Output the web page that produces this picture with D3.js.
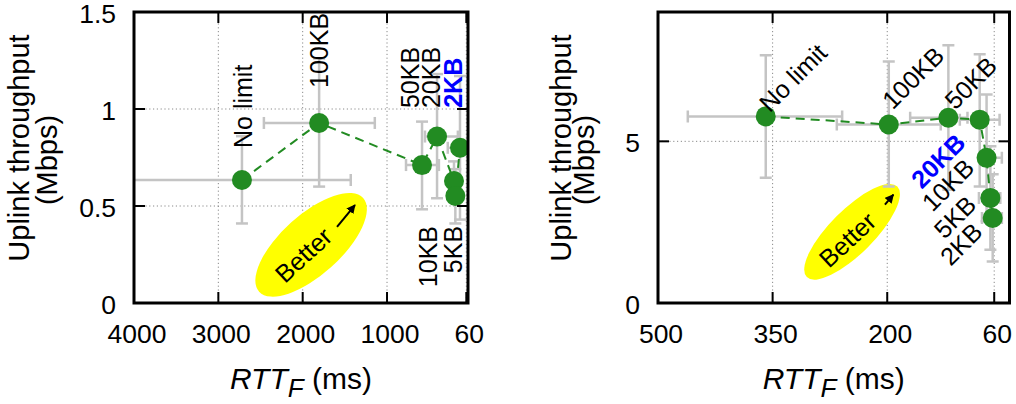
<!DOCTYPE html>
<html>
<head>
<meta charset="utf-8">
<script src="https://cdn.jsdelivr.net/npm/d3@7"></script>
<style>
  body { margin: 0; background: #fff; }
  svg { display: block; }
  text { font-family: "Liberation Sans", Arial, Helvetica, sans-serif; fill: #000; }
</style>
</head>
<body>
<svg id="chart" width="1016" height="404"></svg>
<script>
// Upload buffer limits, in the order the dashed line visits them
const bufferLabels = ["No limit", "100KB", "50KB", "20KB", "10KB", "5KB", "2KB"];

// Left panel: RTT_F (ms) and uplink throughput (Mbps)
const leftRtt      = [2720, 1805, 585, 407, 206, 190, 135];
const leftRttLow   = [1430, 1145, 385, 160, 150, 140, 0];
const leftRttHigh  = [4010, 2460, 775, 550, 260, 240, 280];
const leftTput     = [0.634, 0.928, 0.711, 0.858, 0.629, 0.552, 0.80];
const leftTputLow  = [0.41, 0.60, 0.483, 0.54, 0.53, 0.41, 0.43];
const leftTputHigh = [0.86, 1.26, 0.935, 1.18, 0.73, 0.69, 1.17];
const leftHighlight = "2KB";

// Right panel
const rightRtt      = [359, 198, 120, 79, 70, 65, 62];
const rightRttLow   = [259, 130, 95, 53, 50, 52, 50];
const rightRttHigh  = [461, 266, 170, 105, 79, 80, 76];
const rightTput     = [5.77, 5.52, 5.73, 5.67, 4.49, 3.25, 2.63];
const rightTputLow  = [3.87, 3.60, 3.50, 3.60, 2.53, 1.65, 1.28];
const rightTputHigh = [7.66, 7.47, 7.97, 7.69, 6.45, 4.85, 3.98];
const rightHighlight = "20KB";

// Axis ticks
const leftXTicks  = [4000, 3000, 2000, 1000, 60];
const leftYTicks  = [0, 0.5, 1, 1.5];
const rightXTicks = [500, 350, 200, 60];
const rightYTicks = [0, 5];
const leftXDomain = [4000, 40], leftYDomain = [0, 1.5];
const rightXDomain = [500, 40], rightYDomain = [0, 9];

// "Better" annotations (data coordinates)
const leftBetter  = { cx: 1900, cy: 0.30, tx: 1990, ty: 0.247, ax0: 1593, ay0: 0.392, ax1: 1380, ay1: 0.505 };
const rightBetter = { cx: 246, cy: 2.2, tx: 252, ty: 1.95, ax0: 203, ay0: 3.04, ax1: 192, ay1: 3.35 };

const GREEN = "#228b22", GRAY = "#c4c4c4", BLUE = "#0000ff";
const TICK_FONT = 26.5;

const svg = d3.select("#chart");
const defs = svg.append("defs");
defs.append("marker")
  .attr("id", "arrowhead").attr("viewBox", "0 0 10 10")
  .attr("refX", 9).attr("refY", 5)
  .attr("markerWidth", 4.5).attr("markerHeight", 4.5)
  .attr("markerUnits", "strokeWidth").attr("orient", "auto")
  .append("path").attr("d", "M0,0 L10,5 L0,10 Z").attr("fill", "#000");

function drawPanel(p) {
  const x = d3.scaleLinear().domain(p.xDomain).range([p.left, p.right]);
  const y = d3.scaleLinear().domain(p.yDomain).range([p.bottom, p.top]);
  const g = svg.append("g");
  const clipId = "clip-" + p.id;
  defs.append("clipPath").attr("id", clipId)
    .append("rect").attr("x", p.left).attr("y", p.top)
    .attr("width", p.right - p.left).attr("height", p.bottom - p.top);

  // dotted grid
  const grid = g.append("g").attr("stroke", "#8a8a8a").attr("stroke-width", 1)
    .attr("stroke-dasharray", "1.2,2.6");
  grid.selectAll("line.vx").data(p.xTicks.filter(t => x(t) > p.left + 2 && x(t) < p.right - 1))
    .join("line").attr("x1", d => x(d)).attr("x2", d => x(d)).attr("y1", p.top).attr("y2", p.bottom);
  grid.selectAll("line.hy").data(p.yTicks.filter(t => y(t) < p.bottom - 2 && y(t) > p.top + 2))
    .join("line").attr("y1", d => y(d)).attr("y2", d => y(d)).attr("x1", p.left).attr("x2", p.right);

  // "Better" ellipse, text and arrow
  const b = p.better;
  g.append("ellipse")
    .attr("transform", `translate(${x(b.cx)},${y(b.cy)}) rotate(${-p.ell.angle})`)
    .attr("rx", p.ell.a).attr("ry", p.ell.b).attr("fill", "#ffff00");
  g.append("text")
    .attr("transform", `translate(${x(b.tx)},${y(b.ty)}) rotate(${-p.ell.textAngle})`)
    .attr("text-anchor", "middle").attr("dy", "0.35em")
    .attr("font-size", 25).text("Better");
  g.append("line")
    .attr("x1", x(b.ax0)).attr("y1", y(b.ay0)).attr("x2", x(b.ax1)).attr("y2", y(b.ay1))
    .attr("stroke", "#000").attr("stroke-width", 2).attr("marker-end", "url(#arrowhead)");

  const rows = bufferLabels.map((name, i) => ({
    name, x: p.rtt[i], xl: p.rttLow[i], xh: p.rttHigh[i],
    y: p.tput[i], yl: p.tputLow[i], yh: p.tputHigh[i]
  }));

  // error bars
  const eb = g.append("g").attr("clip-path", `url(#${clipId})`)
    .attr("stroke", GRAY).attr("stroke-width", 2.5).attr("fill", "none");
  const cap = 6;
  rows.forEach(r => {
    const px = x(r.x), py = y(r.y);
    eb.append("line").attr("x1", x(r.xl)).attr("x2", x(r.xh)).attr("y1", py).attr("y2", py);
    eb.append("line").attr("x1", x(r.xl)).attr("x2", x(r.xl)).attr("y1", py - cap).attr("y2", py + cap);
    eb.append("line").attr("x1", x(r.xh)).attr("x2", x(r.xh)).attr("y1", py - cap).attr("y2", py + cap);
    eb.append("line").attr("x1", px).attr("x2", px).attr("y1", y(r.yl)).attr("y2", y(r.yh));
    eb.append("line").attr("x1", px - cap).attr("x2", px + cap).attr("y1", y(r.yl)).attr("y2", y(r.yl));
    eb.append("line").attr("x1", px - cap).attr("x2", px + cap).attr("y1", y(r.yh)).attr("y2", y(r.yh));
  });

  // dashed connecting line
  g.append("path").datum(rows).attr("clip-path", `url(#${clipId})`)
    .attr("d", d3.line().x(d => x(d.x)).y(d => y(d.y)))
    .attr("fill", "none").attr("stroke", GREEN).attr("stroke-width", 2)
    .attr("stroke-dasharray", "9,6");

  // points
  g.append("g").attr("clip-path", `url(#${clipId})`)
    .selectAll("circle").data(rows).join("circle")
    .attr("cx", d => x(d.x)).attr("cy", d => y(d.y)).attr("r", 10).attr("fill", GREEN);

  // point labels
  rows.forEach((r, i) => {
    const L = p.labels[i];
    const hi = r.name === p.highlight;
    g.append("text")
      .attr("transform", `translate(${x(r.x) + L[0]},${y(r.y) + L[1]}) rotate(${p.labelAngle})`)
      .attr("text-anchor", L[2])
      .attr("font-size", 25)
      .attr("font-weight", hi ? "bold" : null)
      .style("fill", hi ? BLUE : "#000")
      .text(r.name);
  });

  // frame and inward ticks on all four sides
  const ax = g.append("g").attr("stroke", "#000").attr("stroke-width", 2);
  const tl = 11;
  p.xTicks.forEach(t => {
    const xx = x(t);
    ax.append("line").attr("x1", xx).attr("x2", xx).attr("y1", p.bottom).attr("y2", p.bottom - tl);
    ax.append("line").attr("x1", xx).attr("x2", xx).attr("y1", p.top).attr("y2", p.top + tl);
  });
  p.yTicks.forEach(t => {
    const yy = y(t);
    ax.append("line").attr("y1", yy).attr("y2", yy).attr("x1", p.left).attr("x2", p.left + tl);
    ax.append("line").attr("y1", yy).attr("y2", yy).attr("x1", p.right).attr("x2", p.right - tl);
  });
  g.append("rect").attr("x", p.left).attr("y", p.top)
    .attr("width", p.right - p.left).attr("height", p.bottom - p.top)
    .attr("fill", "none").attr("stroke", "#000").attr("stroke-width", 3);

  // tick labels
  g.selectAll("text.xt").data(p.xTicks).join("text")
    .attr("x", d => x(d) + 3).attr("y", 343)
    .attr("text-anchor", "middle").attr("font-size", TICK_FONT).text(d => d);
  g.selectAll("text.yt").data(p.yTicks).join("text")
    .attr("x", p.left - 18).attr("y", d => y(d) + 1.5).attr("dy", "0.36em")
    .attr("text-anchor", "end").attr("font-size", TICK_FONT).text(d => d);

  // axis titles
  const cx = (p.left + p.right) / 2;
  const xt = g.append("text").attr("x", cx).attr("y", 389)
    .attr("text-anchor", "middle").attr("font-size", 30);
  xt.append("tspan").attr("font-style", "italic").text("RTT");
  xt.append("tspan").attr("font-style", "italic").attr("font-size", 26).attr("dy", 8).text("F");
  xt.append("tspan").attr("dy", -8).text(" (ms)");

  g.append("text")
    .attr("transform", `translate(${p.yTitleX[0]},148) rotate(-90)`)
    .attr("text-anchor", "middle").attr("font-size", 29).text("Uplink throughput");
  g.append("text")
    .attr("transform", `translate(${p.yTitleX[1]},160) rotate(-90)`)
    .attr("text-anchor", "middle").attr("font-size", 29).text("(Mbps)");
}

drawPanel({
  id: "left", left: 134, right: 468, top: 12, bottom: 303,
  xDomain: leftXDomain, yDomain: leftYDomain,
  xTicks: leftXTicks, yTicks: leftYTicks,
  rtt: leftRtt, rttLow: leftRttLow, rttHigh: leftRttHigh,
  tput: leftTput, tputLow: leftTputLow, tputHigh: leftTputHigh,
  highlight: leftHighlight, better: leftBetter,
  ell: { a: 70, b: 30, angle: 42, textAngle: 43 },
  labelAngle: -90,
  // [dx, dy, anchor] from each point
  labels: [[10, -32, "start"], [9, -35, "start"], [-3, -57, "start"], [3, -28.5, "start"],
           [-17, 45, "end"], [6.7, 30, "end"], [2, -40, "start"]],
  yTitleX: [29, 57]
});

drawPanel({
  id: "right", left: 658, right: 1009.5, top: 12, bottom: 303,
  xDomain: rightXDomain, yDomain: rightYDomain,
  xTicks: rightXTicks, yTicks: rightYTicks,
  rtt: rightRtt, rttLow: rightRttLow, rttHigh: rightRttHigh,
  tput: rightTput, tputLow: rightTputLow, tputHigh: rightTputHigh,
  highlight: rightHighlight, better: rightBetter,
  ell: { a: 64, b: 22, angle: 45, textAngle: 43 },
  labelAngle: -45,
  labels: [[4, -3, "start"], [4, -14, "start"], [7, -7, "start"], [-58, 70, "start"],
           [-54, 55, "start"], [-46, 42, "start"], [-42, 49, "start"]],
  yTitleX: [571, 594]
});
</script>
</body>
</html>
